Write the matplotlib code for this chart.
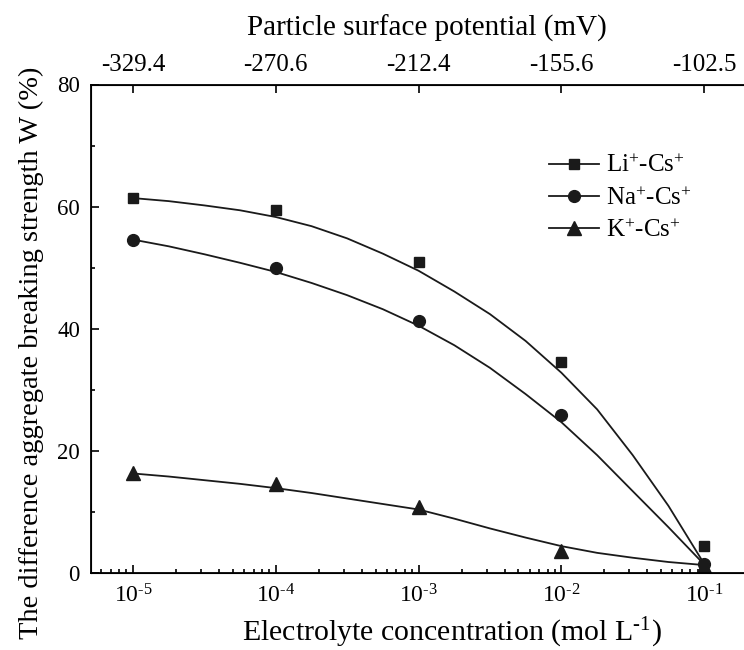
import matplotlib
matplotlib.use("Agg")
import matplotlib.pyplot as plt
from matplotlib.ticker import LogLocator, NullFormatter, MultipleLocator

plt.rcParams['font.family'] = ['Liberation Serif', 'DejaVu Serif']
plt.rcParams['mathtext.fontset'] = 'custom'
plt.rcParams['mathtext.rm'] = 'Liberation Serif'
plt.rcParams['mathtext.it'] = 'Liberation Serif:italic'

# Measured points
conc = [1e-5, 1e-4, 1e-3, 1e-2, 1e-1]
li_cs = [61.4, 59.4, 50.9, 34.5, 4.5]
na_cs = [54.6, 49.9, 41.3, 25.8, 1.4]
k_cs = [16.4, 14.5, 10.8, 3.6, 1.2]

# Fitted curves, every quarter decade
fit_conc = [1e-5, 1.78e-5, 3.16e-5, 5.62e-5, 1e-4, 1.78e-4, 3.16e-4, 5.62e-4,
            1e-3, 1.78e-3, 3.16e-3, 5.62e-3, 1e-2, 1.78e-2, 3.16e-2, 5.62e-2, 1e-1]
li_fit = [61.4, 60.9, 60.2, 59.4, 58.3, 56.8, 54.8, 52.3, 49.5,
          46.1, 42.4, 38.0, 32.8, 26.8, 19.3, 11.0, 1.5]
na_fit = [54.6, 53.5, 52.2, 50.8, 49.3, 47.5, 45.5, 43.2, 40.5,
          37.3, 33.6, 29.3, 24.7, 19.3, 13.4, 7.5, 1.4]
k_fit = [16.3, 15.8, 15.2, 14.6, 13.9, 13.1, 12.2, 11.3, 10.4,
         8.9, 7.3, 5.8, 4.4, 3.3, 2.5, 1.8, 1.3]

potential_labels = ['-329.4', '-270.6', '-212.4', '-155.6', '-102.5']
conc_labels = [r'$\mathregular{10^{\text{-}%d}}$' % e for e in [5, 4, 3, 2, 1]]

fig = plt.figure(figsize=(7.44, 6.5), dpi=100)
ax = fig.add_axes([91 / 744, 77 / 650, 656 / 744, 488.5 / 650])

c = '#1a1a1a'
lw = 1.3
ax.plot(fit_conc, li_fit, color=c, lw=lw)
ax.plot(fit_conc, na_fit, color=c, lw=lw)
ax.plot(fit_conc, k_fit, color=c, lw=lw)
ax.plot(conc, li_cs, 's', color=c, ms=7.5)
ax.plot(conc, na_cs, 'o', color=c, ms=8.5)
ax.plot(conc, k_cs, '^', color=c, ms=9.5)

# legend handles (line + marker)
h1, = ax.plot([], [], '-s', color=c, lw=lw, ms=7.5)
h2, = ax.plot([], [], '-o', color=c, lw=lw, ms=8.5)
h3, = ax.plot([], [], '-^', color=c, lw=lw, ms=9.5)
ax.legend([h1, h2, h3],
          ['Li$^{+}$-Cs$^{+}$', 'Na$^{+}$-Cs$^{+}$', 'K$^{+}$-Cs$^{+}$'],
          loc='upper left', bbox_to_anchor=(0.698, 0.857), frameon=False,
          borderpad=0, borderaxespad=0,
          fontsize=18, handlelength=2.0, labelspacing=0.38, handletextpad=0.3)

ax.set_xscale('log')
ax.set_xlim(10 ** -5.294, 10 ** -0.7)
ax.set_ylim(0, 80)
ax.set_xticks(conc)
ax.set_xticklabels(conc_labels)
ax.xaxis.set_minor_locator(LogLocator(base=10, subs=range(2, 10), numticks=20))
ax.xaxis.set_minor_formatter(NullFormatter())
ax.yaxis.set_major_locator(MultipleLocator(20))
ax.yaxis.set_minor_locator(MultipleLocator(10))
ax.tick_params(which='both', direction='in', width=1.2, top=False, right=False)
ax.tick_params(axis='y', labelsize=16.5)
ax.tick_params(axis='x', labelsize=17)
ax.tick_params(which='major', length=6, pad=8)
ax.tick_params(which='minor', length=3)
for s in ax.spines.values():
    s.set_linewidth(1.3)

ax.set_xlabel('Electrolyte concentration (mol L$^{\\text{-}1}$)', fontsize=21.5)
ax.xaxis.set_label_coords(0.550, -0.087)
ax.set_ylabel('The difference aggregate breaking strength W (%)', fontsize=20.5)
ax.yaxis.set_label_coords(-0.072, 0.450)

top = ax.twiny()
top.set_xscale('log')
top.set_xlim(ax.get_xlim())
top.set_xticks(conc)
top.set_xticklabels(potential_labels)
top.xaxis.set_minor_locator(LogLocator(base=10, subs=[], numticks=20))
top.tick_params(which='both', direction='in', labelsize=18, length=6, width=1.2, pad=6)
top.set_xlabel('Particle surface potential (mV)', fontsize=21)
top.xaxis.set_label_coords(0.512, 1.100)

fig.savefig('out.png', dpi=100)
